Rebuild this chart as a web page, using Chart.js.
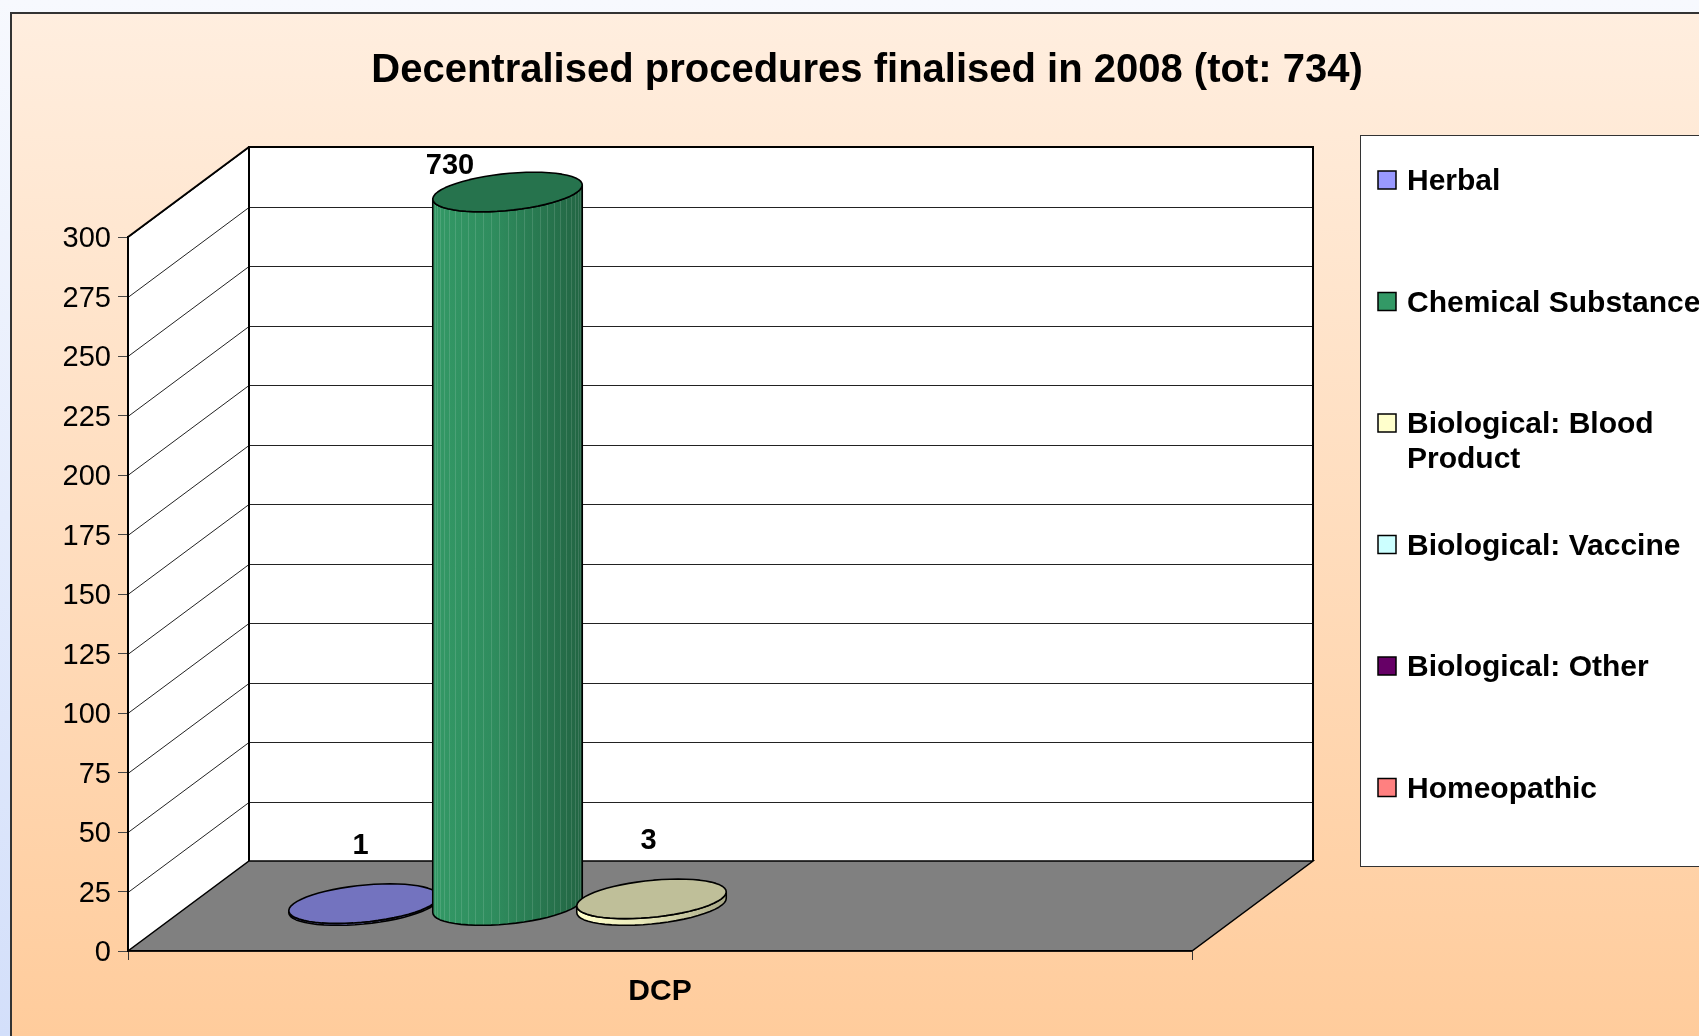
<!DOCTYPE html>
<html>
<head>
<meta charset="utf-8">
<title>Decentralised procedures finalised in 2008</title>
<script src="https://cdn.jsdelivr.net/npm/chart.js@4.4.1/dist/chart.umd.min.js"></script>
<style>
  html, body { margin: 0; padding: 0; background: #f7f9fe; overflow: hidden; }
  canvas { display: block; }
</style>
</head>
<body>
<canvas id="dcpChart" width="1699" height="1036"></canvas>
<script>
// values
const chartTitle = 'Decentralised procedures finalised in 2008 (tot: 734)';
const categories = ['DCP'];
const seriesNames = [
  'Herbal',
  'Chemical Substance',
  'Biological: Blood Product',
  'Biological: Vaccine',
  'Biological: Other',
  'Homeopathic'
];
const seriesValues = [1, 730, 3, 0, 0, 0];
const seriesColors = ['#9999FF', '#339966', '#FFFFCC', '#CCFFFF', '#660066', '#FF8080'];
const yMin = 0;
const yMax = 300;
const yStep = 25;

// fake 3d: how far the back wall is shifted from the front plane
const DX = 121;
const DY = -90;
const FONT = '"Liberation Sans", Arial, sans-serif';

function shade(hex, f) {
  let n = parseInt(hex.slice(1), 16);
  let r = Math.min(255, Math.round(((n >> 16) & 255) * f));
  let g = Math.min(255, Math.round(((n >> 8) & 255) * f));
  let b = Math.min(255, Math.round((n & 255) * f));
  return 'rgb(' + r + ',' + g + ',' + b + ')';
}

function line(ctx, x1, y1, x2, y2) {
  ctx.beginPath();
  ctx.moveTo(x1, y1);
  ctx.lineTo(x2, y2);
  ctx.stroke();
}

//-------------------backdrop + walls------------------
function drawBackdrop(chart) {
  const ctx = chart.ctx;
  const W = chart.width, H = chart.height;
  ctx.save();
  let g = ctx.createLinearGradient(0, 0, 0, H);
  g.addColorStop(0, '#f7f9fe');
  g.addColorStop(1, '#d3dffa');
  ctx.fillStyle = g;
  ctx.fillRect(0, 0, W, H);

  g = ctx.createLinearGradient(0, 13, 0, H);
  g.addColorStop(0, '#ffeedf');
  g.addColorStop(1, '#ffcc9c');
  ctx.fillStyle = g;
  ctx.fillRect(11, 13, W - 11, H - 13);
  ctx.strokeStyle = '#333';
  ctx.lineWidth = 2;
  ctx.beginPath();
  ctx.moveTo(11, H);
  ctx.lineTo(11, 13);
  ctx.lineTo(W, 13);
  ctx.stroke();

  const a = chart.chartArea;
  const ys = chart.scales.y;
  const L = a.left, R = a.right, T = a.top, B = a.bottom;

  // side wall and back wall
  ctx.fillStyle = '#ffffff';
  ctx.beginPath();
  ctx.moveTo(L, B);
  ctx.lineTo(L, T);
  ctx.lineTo(L + DX, T + DY);
  ctx.lineTo(L + DX, B + DY);
  ctx.closePath();
  ctx.fill();
  ctx.fillRect(L + DX, T + DY, R - L, B - T);

  // floor
  ctx.fillStyle = '#808080';
  ctx.strokeStyle = '#000';
  ctx.lineWidth = 1.5;
  ctx.beginPath();
  ctx.moveTo(L, B);
  ctx.lineTo(R, B);
  ctx.lineTo(R + DX, B + DY);
  ctx.lineTo(L + DX, B + DY);
  ctx.closePath();
  ctx.fill();
  ctx.stroke();

  // grid on the walls, from the y scale ticks
  ctx.lineWidth = 1;
  ctx.strokeStyle = '#222';
  ys.ticks.forEach(t => {
    const y = Math.round(ys.getPixelForValue(t.value)) + 0.5;
    if (t.value > yMin && t.value < yMax) {
      line(ctx, L + DX, y + DY, R + DX, y + DY);
    }
    if (t.value > yMin) line(ctx, L, y, L + DX, y + DY);
  });

  ctx.strokeStyle = '#000';
  ctx.lineWidth = 2;
  ctx.beginPath();
  ctx.moveTo(L + DX, B + DY);
  ctx.lineTo(L + DX, T + DY);
  ctx.lineTo(R + DX, T + DY);
  ctx.lineTo(R + DX, B + DY);
  ctx.stroke();
  line(ctx, L, T, L + DX, T + DY);
  ctx.restore();
}

//-------------------cylinders------------------
function drawCylinder(ctx, cx, yBase, yTop, r, color) {
  const kx = DX * 0.22, ky = DY * 0.22;
  const N = 28;
  const pt = (t, y) => [cx + r * Math.cos(t) + kx * Math.sin(t), y + ky * Math.sin(t)];
  const t0 = Math.atan2(kx, r);
  const half = Math.sqrt(r * r + kx * kx);

  ctx.save();
  ctx.lineJoin = 'round';
  // side
  let g = ctx.createLinearGradient(cx - half, 0, cx + half, 0);
  g.addColorStop(0, shade(color, 1.0));
  g.addColorStop(0.4, shade(color, 0.92));
  g.addColorStop(1, shade(color, 0.66));
  ctx.beginPath();
  for (let i = 0; i <= N; i++) {
    const p = pt(t0 + Math.PI + Math.PI * i / N, yBase);
    i === 0 ? ctx.moveTo(p[0], p[1]) : ctx.lineTo(p[0], p[1]);
  }
  for (let i = N; i >= 0; i--) {
    const p = pt(t0 + Math.PI + Math.PI * i / N, yTop);
    ctx.lineTo(p[0], p[1]);
  }
  ctx.closePath();
  ctx.fillStyle = g;
  ctx.fill();
  // facet edges
  if (yBase - yTop > 20) {
    ctx.strokeStyle = 'rgba(255,255,255,0.13)';
    ctx.lineWidth = 1;
    for (let i = 1; i < N; i++) {
      const p1 = pt(t0 + Math.PI + Math.PI * i / N, yTop);
      const p2 = pt(t0 + Math.PI + Math.PI * i / N, yBase);
      line(ctx, Math.round(p1[0]) + 0.5, p1[1], Math.round(p2[0]) + 0.5, p2[1]);
    }
  }
  ctx.strokeStyle = '#000';
  ctx.lineWidth = 1.6;
  ctx.beginPath();
  for (let i = 0; i <= N; i++) {
    const p = pt(t0 + Math.PI + Math.PI * i / N, yBase);
    i === 0 ? ctx.moveTo(p[0], p[1]) : ctx.lineTo(p[0], p[1]);
  }
  for (let i = N; i >= 0; i--) {
    const p = pt(t0 + Math.PI + Math.PI * i / N, yTop);
    ctx.lineTo(p[0], p[1]);
  }
  ctx.closePath();
  ctx.stroke();

  // top cap
  ctx.beginPath();
  for (let i = 0; i <= 2 * N; i++) {
    const p = pt(Math.PI * i / N, yTop);
    i === 0 ? ctx.moveTo(p[0], p[1]) : ctx.lineTo(p[0], p[1]);
  }
  ctx.closePath();
  ctx.fillStyle = shade(color, 0.75);
  ctx.fill();
  ctx.stroke();
  ctx.restore();
}

function drawBars(chart) {
  const ctx = chart.ctx;
  const a = chart.chartArea;
  chart.data.datasets.forEach((ds, i) => {
    if (!ds.data[0]) return;
    const bar = chart.getDatasetMeta(i).data[0];
    const top = Math.max(bar.y, a.top);
    drawCylinder(ctx, bar.x + DX * 0.5 + 3, bar.base + DY * 0.5, top + DY * 0.5, bar.width / 2, seriesColors[i]);
  });
}

function drawValueLabels(chart) {
  const ctx = chart.ctx;
  const a = chart.chartArea;
  ctx.save();
  ctx.font = 'bold 29px ' + FONT;
  ctx.fillStyle = '#000';
  ctx.textAlign = 'center';
  ctx.textBaseline = 'middle';
  chart.data.datasets.forEach((ds, i) => {
    const v = ds.data[0];
    if (!v) return;
    const bar = chart.getDatasetMeta(i).data[0];
    const capY = Math.max(bar.y, a.top) + DY * 0.5;
    let x = bar.x + DX * 0.5, y = capY - 58;
    if (bar.y < a.top) { x = bar.x + 6; y = capY - 26; }
    ctx.fillText(String(v), x, y);
  });
  ctx.restore();
}

//-------------------legend box------------------
function wrapText(ctx, text, maxW) {
  const words = text.split(' ');
  const lines = [];
  let cur = '';
  words.forEach(w => {
    const test = cur ? cur + ' ' + w : w;
    if (cur && ctx.measureText(test).width > maxW) {
      lines.push(cur);
      cur = w;
    } else {
      cur = test;
    }
  });
  lines.push(cur);
  return lines;
}

function drawLegend(chart) {
  const ctx = chart.ctx;
  ctx.save();
  ctx.fillStyle = '#fff';
  ctx.fillRect(1360, 135, 400, 731);
  ctx.strokeStyle = '#333';
  ctx.lineWidth = 1;
  ctx.strokeRect(1360.5, 135.5, 400, 731);

  ctx.font = 'bold 30px ' + FONT;
  ctx.textBaseline = 'middle';
  ctx.textAlign = 'left';
  chart.data.datasets.forEach((ds, i) => {
    const yc = 180 + i * 121.5;
    ctx.fillStyle = ds.backgroundColor;
    ctx.fillRect(1378, yc - 9, 18, 18);
    ctx.strokeStyle = '#000';
    ctx.lineWidth = 1.5;
    ctx.strokeRect(1378, yc - 9, 18, 18);
    ctx.fillStyle = '#000';
    wrapText(ctx, ds.label, 330).forEach((t, k) => {
      ctx.fillText(t, 1407, yc + 2 + k * 35);
    });
  });
  ctx.restore();
}

const slidePlugin = {
  id: 'slide3d',
  beforeDraw: drawBackdrop,
  beforeDatasetsDraw(chart) {
    drawBars(chart);
    return false;
  },
  afterDraw(chart) {
    drawValueLabels(chart);
    drawLegend(chart);
  }
};

let ctx = document.getElementById('dcpChart').getContext('2d');
let dcpChart = new Chart(ctx, {
  type: 'bar',
  data: {
    labels: categories,
    datasets: seriesNames.map((name, i) => ({
      label: name,
      data: [seriesValues[i]],
      backgroundColor: seriesColors[i],
      borderColor: '#000',
      borderWidth: 1,
      categoryPercentage: 0.812,
      barPercentage: 0.97
    }))
  },
  options: {
    responsive: false,
    devicePixelRatio: 1,
    animation: false,
    layout: { padding: { left: 35, right: 0, top: 0, bottom: 0 } },
    plugins: {
      legend: { display: false },
      tooltip: { enabled: false },
      title: {
        display: true,
        text: chartTitle,
        color: '#000',
        font: { family: FONT, size: 40, weight: 'bold' },
        padding: { top: 47, bottom: 142 }
      }
    },
    scales: {
      x: {
        type: 'category',
        offset: true,
        grid: { offset: true, drawOnChartArea: false, drawTicks: true, tickLength: 9, color: '#333' },
        border: { display: true, color: '#000', width: 1.5 },
        ticks: { color: '#000', padding: 14, font: { family: FONT, size: 30, weight: 'bold' } },
        afterFit(scale) { scale.height = 85; }
      },
      y: {
        type: 'linear',
        position: 'left',
        min: yMin,
        max: yMax,
        ticks: { stepSize: yStep, color: '#000', padding: 7, labelOffset: 2, font: { family: FONT, size: 29 } },
        grid: { drawOnChartArea: false, drawTicks: true, tickLength: 10, color: '#444' },
        border: { display: true, color: '#000', width: 2 },
        afterFit(scale) { scale.width = 93; }
      },
      reserve: {
        type: 'linear',
        position: 'right',
        display: true,
        grid: { display: false },
        ticks: { display: false },
        border: { display: false },
        afterFit(scale) { scale.width = 507; }
      }
    }
  },
  plugins: [slidePlugin]
});
</script>
</body>
</html>
